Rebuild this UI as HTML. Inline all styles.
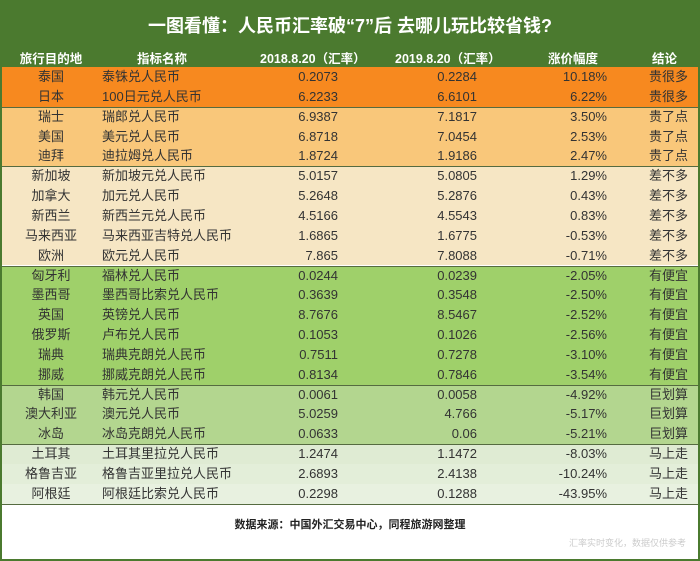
<!DOCTYPE html>
<html><head><meta charset="utf-8"><style>
body{margin:0;width:700px;height:561px;overflow:hidden;background:#fff;font-family:"Liberation Sans","Noto Sans CJK SC",sans-serif;}
#w{position:absolute;left:0;top:0;width:696px;height:557px;border:2px solid #4b7a2f;background:#fff;}
#t{position:absolute;left:0;top:0;width:696px;height:47px;background:#4b7a2f;}
#t div{position:absolute;top:0;line-height:48px;width:100%;text-align:center;color:#fff;font-weight:bold;font-size:18px;}
.r{position:absolute;left:0;width:696px;height:19.85px;font-size:13px;color:#333;}
.r span{position:absolute;top:0;line-height:20px;height:20px;white-space:nowrap;}
.h{background:#4b7a2f;color:#fff;font-weight:bold;font-size:12.5px;}
.c1{left:0;width:98px;text-align:center}
.c2{left:100px}
.c3{right:360px;text-align:right}
.c4{right:221px;text-align:right}
.c5{right:91px;text-align:right}
.c6{right:10px;text-align:right}
.sep{position:absolute;left:0;width:696px;height:1px;background:#556b40;}
</style></head><body><div id="w">
<div id="t"><div>一图看懂：人民币汇率破“7”后 去哪儿玩比较省钱?</div></div>
<div class="r h" style="top:47px;height:20px"><span class="c1">旅行目的地</span><span style="left:120px;width:80px;text-align:center">指标名称</span><span style="left:258px">2018.8.20（汇率）</span><span style="left:393px">2019.8.20（汇率）</span><span style="left:546px">涨价幅度</span><span style="left:650px">结论</span></div>
<div id="rows"></div>
<div style="position:absolute;top:514px;width:100%;text-align:center;font-size:11px;font-weight:bold;color:#222">数据来源：中国外汇交易中心，同程旅游网整理</div>
<div style="position:absolute;top:534px;right:12px;font-size:9px;color:#ccc">汇率实时变化，数据仅供参考</div>
</div>
<script>
var d=[["泰国","泰铢兑人民币","0.2073","0.2284","10.18%","贵很多"],["日本","100日元兑人民币","6.2233","6.6101","6.22%","贵很多"],["瑞士","瑞郎兑人民币","6.9387","7.1817","3.50%","贵了点"],["美国","美元兑人民币","6.8718","7.0454","2.53%","贵了点"],["迪拜","迪拉姆兑人民币","1.8724","1.9186","2.47%","贵了点"],["新加坡","新加坡元兑人民币","5.0157","5.0805","1.29%","差不多"],["加拿大","加元兑人民币","5.2648","5.2876","0.43%","差不多"],["新西兰","新西兰元兑人民币","4.5166","4.5543","0.83%","差不多"],["马来西亚","马来西亚吉特兑人民币","1.6865","1.6775","-0.53%","差不多"],["欧洲","欧元兑人民币","7.865","7.8088","-0.71%","差不多"],["匈牙利","福林兑人民币","0.0244","0.0239","-2.05%","有便宜"],["墨西哥","墨西哥比索兑人民币","0.3639","0.3548","-2.50%","有便宜"],["英国","英镑兑人民币","8.7676","8.5467","-2.52%","有便宜"],["俄罗斯","卢布兑人民币","0.1053","0.1026","-2.56%","有便宜"],["瑞典","瑞典克朗兑人民币","0.7511","0.7278","-3.10%","有便宜"],["挪威","挪威克朗兑人民币","0.8134","0.7846","-3.54%","有便宜"],["韩国","韩元兑人民币","0.0061","0.0058","-4.92%","巨划算"],["澳大利亚","澳元兑人民币","5.0259","4.766","-5.17%","巨划算"],["冰岛","冰岛克朗兑人民币","0.0633","0.06","-5.21%","巨划算"],["土耳其","土耳其里拉兑人民币","1.2474","1.1472","-8.03%","马上走"],["格鲁吉亚","格鲁吉亚里拉兑人民币","2.6893","2.4138","-10.24%","马上走"],["阿根廷","阿根廷比索兑人民币","0.2298","0.1288","-43.95%","马上走"]];
var bg=["#f7891f","#f7891f","#f9c77a","#f9c77a","#f9c77a","#f6e6c4","#f6e6c4","#f6e6c4","#f6e6c4","#f6e6c4","#9fd06a","#9fd06a","#9fd06a","#9fd06a","#9fd06a","#9fd06a","#b3d68f","#b3d68f","#b3d68f","#dfebd3","#e3eed9","#e8f1e0"];
var h="";for(var i=0;i<d.length;i++){var t=65+i*19.85,r=d[i];
h+='<div class="r" style="top:'+t+'px;background:'+bg[i]+'"><span class="c1">'+r[0]+'</span><span class="c2">'+r[1]+'</span><span class="c3">'+r[2]+'</span><span class="c4">'+r[3]+'</span><span class="c5">'+r[4]+'</span><span class="c6">'+r[5]+'</span></div>';}
[2,5,10,16,19,22].forEach(function(k){h+='<div class="sep" style="top:'+(65+k*19.85)+'px"></div>';});
document.getElementById("rows").innerHTML=h;
</script></body></html>
